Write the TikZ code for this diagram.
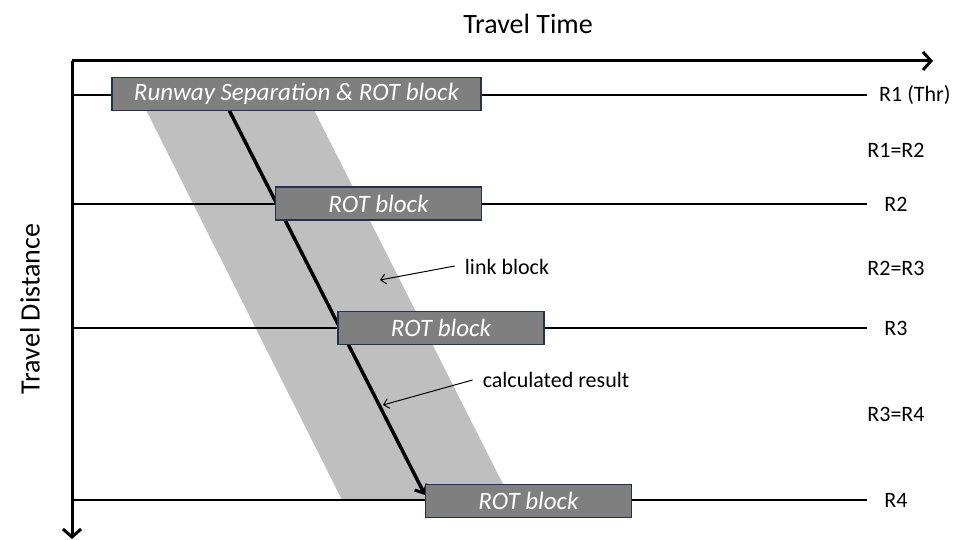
\documentclass[tikz,border=0pt]{standalone}
\usepackage{fontspec}
\setmainfont{Carlito}
\usetikzlibrary{arrows.meta}
\definecolor{blockfill}{HTML}{7F7F7F}
\definecolor{blockedge}{HTML}{22324F}
\definecolor{band}{HTML}{BFBFBF}
\tikzset{
  blockbox/.style={draw=blockedge, line width=1.2pt, fill=blockfill, text=white,
    minimum height=33pt, inner sep=0pt, font=\fontsize{25}{28}\selectfont\itshape},
  lbl/.style={font=\fontsize{22}{25}\selectfont, inner sep=0pt},
  axis/.style={line width=3pt, -{Straight Barb[length=8pt,width=18pt,line width=3pt]}},
  rline/.style={line width=1.1pt},
  pointer/.style={line width=1pt, -{Straight Barb[length=5pt,width=10pt,line width=1pt]}},
}
\begin{document}
\begin{tikzpicture}[x=1pt,y=-1pt]
\useasboundingbox (0,0) rectangle (960,540);
% band
\fill[band] (145,108) -- (313,108) -- (511,500) -- (342,500) -- cycle;
% axes
\coordinate (O) at (72,61);
\coordinate (xend) at (933,61);
\coordinate (yend) at (72,539);
\draw[axis] (O) -- (xend);
\draw[axis] (O) -- (yend);
\node[lbl, font=\fontsize{28}{32}\selectfont] (tt) at (528,24) {Travel Time};
\node[lbl, font=\fontsize{28}{32}\selectfont, rotate=90] (td) at (30,309) {Travel Distance};
% runway labels
\node[lbl, anchor=west] (r1) at (879,95) {R1 (Thr)};
\node[lbl] (r12) at (896,150) {R1=R2};
\node[lbl] (r2) at (896,204) {R2};
\node[lbl] (r23) at (896,268) {R2=R3};
\node[lbl] (r3) at (896,328) {R3};
\node[lbl] (r34) at (896,414) {R3=R4};
\node[lbl] (r4) at (896,500) {R4};
% horizontal lines
\coordinate (a1) at (72,95);
\coordinate (a2) at (72,204);
\coordinate (a3) at (72,328);
\coordinate (a4) at (72,500);
\coordinate (e1) at (867,95);
\coordinate (e2) at (867,204);
\coordinate (e3) at (867,328);
\coordinate (e4) at (867,500);
\draw[rline] (a1) -- (e1);
\draw[rline] (a2) -- (e2);
\draw[rline] (a3) -- (e3);
\draw[rline] (a4) -- (e4);
% calculated result line
\coordinate (cs) at (228,108);
\coordinate (ce) at (425,495);
\draw[line width=3.5pt, -{Straight Barb[length=7pt,width=14pt,line width=3pt]}] (cs) -- (ce);
% blocks
\node[blockbox, minimum width=369pt] (b1) at (296.5,94) {Runway Separation \& ROT block};
\node[blockbox, minimum width=206pt] (b2) at (378.5,203.5) {ROT block};
\node[blockbox, minimum width=206pt] (b3) at (441,328) {ROT block};
\node[blockbox, minimum width=206pt] (b4) at (528.5,501) {ROT block};
% pointers
\node[lbl] (lb) at (507,267) {link block};
\node[lbl] (cr) at (556,380) {calculated result};
\coordinate (lbt) at (380,280);
\coordinate (crt) at (383,405);
\draw[pointer] (lb.west) ++(-10,-1) -- (lbt);
\draw[pointer] (cr.west) ++(-10,0) -- (crt);
\end{tikzpicture}
\end{document}
